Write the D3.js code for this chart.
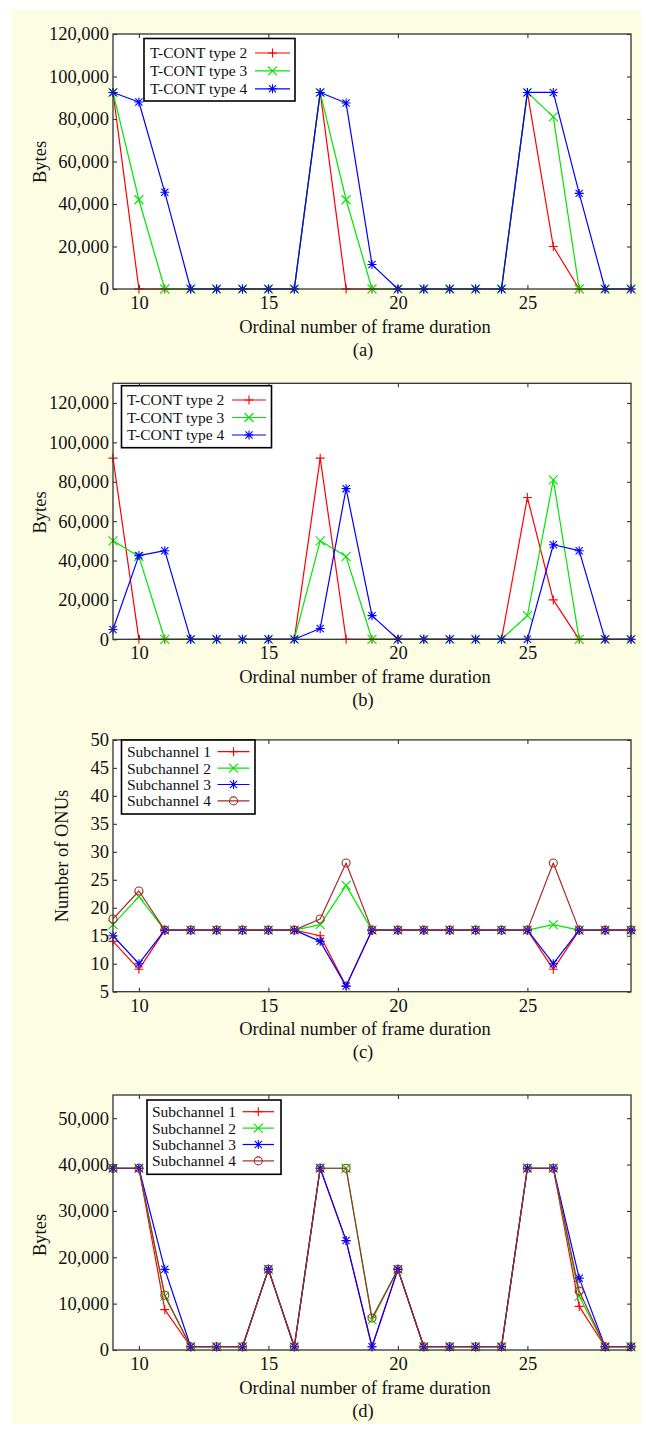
<!DOCTYPE html>
<html>
<head>
<meta charset="utf-8">
<script src="https://cdn.jsdelivr.net/npm/d3@7"></script>
<style>
    body { margin: 0; background: #ffffff; }
    text { font-family: "Liberation Serif", "Times New Roman", serif; fill: #111; }
</style>
</head>
<body>
<script>
// x categories: ordinal number of frame duration
var frames = [9, 10, 11, 12, 13, 14, 15, 16, 17, 18, 19, 20, 21, 22, 23, 24, 25, 26, 27, 28, 29];
var frameTicks = [10, 15, 20, 25];

var tcontNames = ["T-CONT type 2", "T-CONT type 3", "T-CONT type 4"];
var subNames = ["Subchannel 1", "Subchannel 2", "Subchannel 3", "Subchannel 4"];

// (a)
var aType2 = [92500, 0, 0, 0, 0, 0, 0, 0, 92500, 0, 0, 0, 0, 0, 0, 0, 92500, 20000, 0, 0, 0];
var aType3 = [92500, 42000, 0, 0, 0, 0, 0, 0, 92500, 42000, 0, 0, 0, 0, 0, 0, 92500, 81000, 0, 0, 0];
var aType4 = [92500, 88000, 45500, 0, 0, 0, 0, 0, 92500, 87500, 11500, 0, 0, 0, 0, 0, 92500, 92500, 45000, 0, 0];

// (b)
var bType2 = [92000, 0, 0, 0, 0, 0, 0, 0, 92000, 0, 0, 0, 0, 0, 0, 0, 72000, 20000, 0, 0, 0];
var bType3 = [50000, 42000, 0, 0, 0, 0, 0, 0, 50000, 42000, 0, 0, 0, 0, 0, 0, 12000, 81000, 0, 0, 0];
var bType4 = [5000, 42500, 45000, 0, 0, 0, 0, 0, 5500, 76500, 12000, 0, 0, 0, 0, 0, 0, 48000, 45000, 0, 0];

// (c)
var cSub1 = [14, 9, 16, 16, 16, 16, 16, 16, 15, 6, 16, 16, 16, 16, 16, 16, 16, 9, 16, 16, 16];
var cSub2 = [17, 22, 16, 16, 16, 16, 16, 16, 17, 24, 16, 16, 16, 16, 16, 16, 16, 17, 16, 16, 16];
var cSub3 = [15, 10, 16, 16, 16, 16, 16, 16, 14, 6, 16, 16, 16, 16, 16, 16, 16, 10, 16, 16, 16];
var cSub4 = [18, 23, 16, 16, 16, 16, 16, 16, 18, 28, 16, 16, 16, 16, 16, 16, 16, 28, 16, 16, 16];

// (d)
var dSub1 = [39200, 39200, 8700, 700, 700, 700, 17400, 700, 39200, 23600, 700, 17400, 700, 700, 700, 700, 39200, 39200, 9400, 700, 700];
var dSub2 = [39200, 39200, 11600, 700, 700, 700, 17400, 700, 39200, 39200, 6500, 17400, 700, 700, 700, 700, 39200, 39200, 11600, 700, 700];
var dSub3 = [39200, 39200, 17400, 700, 700, 700, 17400, 700, 39200, 23600, 700, 17400, 700, 700, 700, 700, 39200, 39200, 15500, 700, 700];
var dSub4 = [39200, 39200, 11800, 700, 700, 700, 17400, 700, 39200, 39200, 6900, 17400, 700, 700, 700, 700, 39200, 39200, 12700, 700, 700];

var bytesTicks = [0, 20000, 40000, 60000, 80000, 100000, 120000];
var onuTicks = [5, 10, 15, 20, 25, 30, 35, 40, 45, 50];
var bytesTicksD = [0, 10000, 20000, 30000, 40000, 50000];

var colors = ["#ff0000", "#00e600", "#0000ff", "#a52a2a"];
var shapes = ["plus", "cross", "star", "circle"];

var plotLeft = 113, plotRight = 631;

var panels = [
    { top: 34, bottom: 289, yDomain: [0, 120000], yTicks: bytesTicks, series: [aType2, aType3, aType4], names: tcontNames,
      ylabel: "Bytes", ylabelX: 40, ylabelY: 162, caption: "(a)",
      legend: { x1: 144, x2: 295, y1: 38.5, y2: 101, row0: 53, rowDy: 17.9, textX: 150, lineX1: 255, lineX2: 290 } },
    { top: 383.3, bottom: 639.3, yDomain: [0, 130000], yTicks: bytesTicks, series: [bType2, bType3, bType4], names: tcontNames,
      ylabel: "Bytes", ylabelX: 40, ylabelY: 512.5, caption: "(b)",
      legend: { x1: 121.5, x2: 271.5, y1: 385.7, y2: 447.7, row0: 400, rowDy: 17.5, textX: 127, lineX1: 232, lineX2: 266 } },
    { top: 739.9, bottom: 991.7, yDomain: [5, 50], yTicks: onuTicks, series: [cSub1, cSub2, cSub3, cSub4], names: subNames,
      ylabel: "Number of ONUs", ylabelX: 61.7, ylabelY: 856, caption: "(c)",
      legend: { x1: 121.5, x2: 255, y1: 740, y2: 814, row0: 751.7, rowDy: 16.4, textX: 127, lineX1: 217.5, lineX2: 249.5 } },
    { top: 1095, bottom: 1350, yDomain: [0, 55000], yTicks: bytesTicksD, series: [dSub1, dSub2, dSub3, dSub4], names: subNames,
      ylabel: "Bytes", ylabelX: 40, ylabelY: 1235, caption: "(d)",
      legend: { x1: 147, x2: 281, y1: 1100, y2: 1174.3, row0: 1111.7, rowDy: 16.4, textX: 152, lineX1: 242.6, lineX2: 274 } }
];

var svg = d3.select("body").append("svg")
    .attr("width", 646)
    .attr("height", 1434);

svg.append("rect")
    .attr("x", 12).attr("y", 10)
    .attr("width", 629).attr("height", 1414)
    .attr("fill", "#fdfde3");

function marker(g, shape, cx, cy, color) {
    var s = 4.5;
    if (shape == "circle") {
        g.append("circle")
            .attr("cx", cx).attr("cy", cy).attr("r", 4)
            .attr("fill", "none").attr("stroke", color).attr("stroke-width", 1.1);
        return;
    }
    var p = d3.path();
    if (shape == "plus" || shape == "star") {
        p.moveTo(cx - s, cy); p.lineTo(cx + s, cy);
        p.moveTo(cx, cy - s); p.lineTo(cx, cy + s);
    }
    if (shape == "cross" || shape == "star") {
        var t = shape == "star" ? s * 0.8 : s;
        p.moveTo(cx - t, cy - t); p.lineTo(cx + t, cy + t);
        p.moveTo(cx - t, cy + t); p.lineTo(cx + t, cy - t);
    }
    g.append("path").attr("d", p.toString())
        .attr("fill", "none").attr("stroke", color).attr("stroke-width", 1.1);
}

function drawPanel(p) {
    var x = d3.scaleLinear().domain([9, 29]).range([plotLeft, plotRight]);
    var y = d3.scaleLinear().domain(p.yDomain).range([p.bottom, p.top]);
    var g = svg.append("g");

    g.append("rect")
        .attr("x", plotLeft).attr("y", p.top)
        .attr("width", plotRight - plotLeft).attr("height", p.bottom - p.top)
        .attr("fill", "#ffffff");

    var line = d3.line()
        .x(function (d, i) { return x(frames[i]); })
        .y(function (d) { return y(d); });

    p.series.forEach(function (values, k) {
        g.append("path")
            .datum(values)
            .attr("d", line)
            .attr("fill", "none")
            .attr("stroke", colors[k])
            .attr("stroke-width", 1.2)
            .attr("stroke-linejoin", "round");
        var mg = g.append("g");
        values.forEach(function (v, i) {
            marker(mg, shapes[k], x(frames[i]), y(v), colors[k]);
        });
    });

    // axes, gnuplot style: ticks inward on all four sides
    var yl = g.append("g").attr("transform", "translate(" + plotLeft + ",0)")
        .call(d3.axisLeft(y).tickValues(p.yTicks).tickSize(-4).tickPadding(4).tickFormat(d3.format(",")));
    var yr = g.append("g").attr("transform", "translate(" + plotRight + ",0)")
        .call(d3.axisRight(y).tickValues(p.yTicks).tickSize(-4).tickFormat(""));
    var xb = g.append("g").attr("transform", "translate(0," + p.bottom + ")")
        .call(d3.axisBottom(x).tickValues(frameTicks).tickSize(-4).tickPadding(7).tickFormat(d3.format("d")));
    var xt = g.append("g").attr("transform", "translate(0," + p.top + ")")
        .call(d3.axisTop(x).tickValues(frameTicks).tickSize(-4).tickFormat(""));

    [yl, yr, xb, xt].forEach(function (a) {
        a.select(".domain").remove();
        a.selectAll("line").attr("stroke", "#333").attr("stroke-width", 1.1);
        a.selectAll("text")
            .attr("font-family", "'Liberation Serif', 'Times New Roman', serif")
            .attr("font-size", 18.5)
            .attr("fill", "#111");
    });

    g.append("rect")
        .attr("x", plotLeft).attr("y", p.top)
        .attr("width", plotRight - plotLeft).attr("height", p.bottom - p.top)
        .attr("fill", "none").attr("stroke", "#333").attr("stroke-width", 1.3);

    g.append("text")
        .attr("x", 365).attr("y", p.bottom + 43.7)
        .attr("text-anchor", "middle").attr("font-size", 18.5)
        .text("Ordinal number of frame duration");

    g.append("text")
        .attr("x", 363).attr("y", p.bottom + 66.7)
        .attr("text-anchor", "middle").attr("font-size", 18.5)
        .text(p.caption);

    g.append("text")
        .attr("transform", "translate(" + p.ylabelX + "," + p.ylabelY + ") rotate(-90)")
        .attr("text-anchor", "middle").attr("dy", "0.35em").attr("font-size", 18.5)
        .text(p.ylabel);

    var L = p.legend;
    g.append("rect")
        .attr("x", L.x1).attr("y", L.y1)
        .attr("width", L.x2 - L.x1).attr("height", L.y2 - L.y1)
        .attr("fill", "#ffffff").attr("stroke", "#000").attr("stroke-width", 1.6);

    p.names.forEach(function (name, k) {
        var ry = L.row0 + k * L.rowDy;
        g.append("text")
            .attr("x", L.textX).attr("y", ry).attr("dy", "0.35em")
            .attr("font-size", 15.5)
            .text(name);
        g.append("line")
            .attr("x1", L.lineX1).attr("x2", L.lineX2)
            .attr("y1", ry).attr("y2", ry)
            .attr("stroke", colors[k]).attr("stroke-width", 1.2);
        marker(g, shapes[k], (L.lineX1 + L.lineX2) / 2, ry, colors[k]);
    });
}

panels.forEach(drawPanel);
</script>
</body>
</html>
